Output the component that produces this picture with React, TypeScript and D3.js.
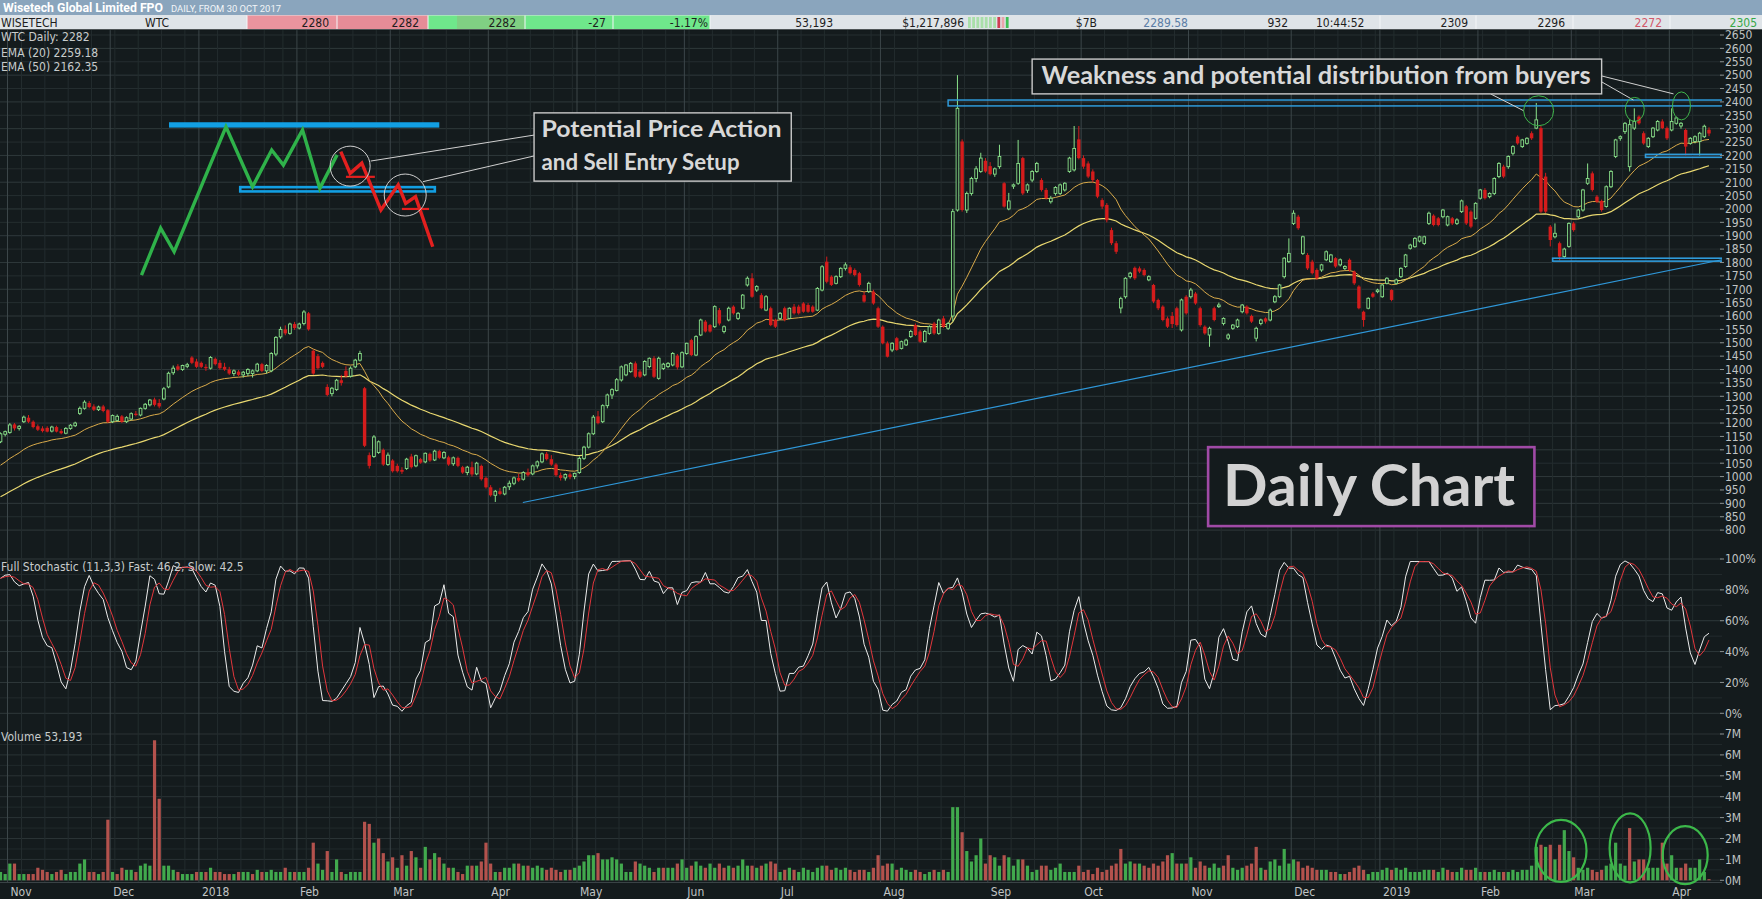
import React from 'react'
import * as d3 from 'd3'

// [open, high, low, close, volume in 100k shares]
type Bar = [number, number, number, number, number]

const oct17: Bar[] = [
  [1130, 1165, 1125, 1160, 4], [1158, 1172, 1150, 1168, 3],
]
const nov17: Bar[] = [
  [1165, 1200, 1160, 1193, 8], [1195, 1200, 1172, 1180, 8], [1180, 1192, 1172, 1188, 3], [1205, 1228, 1200, 1222, 3],
  [1220, 1230, 1200, 1205, 3], [1205, 1210, 1180, 1185, 3], [1188, 1195, 1170, 1175, 6], [1180, 1188, 1165, 1170, 5],
  [1182, 1188, 1165, 1168, 4], [1170, 1190, 1165, 1185, 3], [1185, 1190, 1165, 1168, 4], [1170, 1178, 1158, 1162, 5],
  [1162, 1185, 1158, 1180, 3], [1180, 1196, 1175, 1192, 4], [1190, 1205, 1185, 1200, 4], [1236, 1262, 1230, 1255, 8],
  [1255, 1285, 1250, 1278, 10], [1275, 1282, 1255, 1260, 4], [1262, 1270, 1245, 1250, 4], [1250, 1265, 1245, 1260, 3],
  [1262, 1268, 1240, 1245, 4], [1248, 1252, 1200, 1205, 29],
]
const dec17: Bar[] = [
  [1205, 1232, 1200, 1228, 4], [1210, 1232, 1205, 1225, 3], [1225, 1230, 1200, 1205, 6], [1205, 1225, 1200, 1220, 5],
  [1215, 1240, 1210, 1235, 5], [1235, 1245, 1225, 1230, 4], [1230, 1258, 1225, 1255, 7], [1255, 1275, 1250, 1270, 8],
  [1268, 1290, 1262, 1286, 7], [1288, 1295, 1262, 1268, 67], [1275, 1290, 1255, 1262, 39], [1290, 1335, 1285, 1328, 7],
  [1335, 1392, 1330, 1386, 7], [1388, 1415, 1380, 1405, 5], [1412, 1420, 1395, 1400, 4], [1400, 1418, 1395, 1415, 3],
  [1412, 1425, 1405, 1418, 3], [1445, 1450, 1420, 1425, 3], [1430, 1440, 1405, 1410, 4],
]
const jan18: Bar[] = [
  [1425, 1430, 1405, 1410, 4], [1410, 1420, 1395, 1405, 4], [1405, 1450, 1400, 1445, 6], [1440, 1445, 1415, 1420, 4],
  [1425, 1435, 1400, 1405, 4], [1410, 1425, 1395, 1400, 3], [1400, 1410, 1380, 1385, 3], [1385, 1400, 1375, 1395, 3],
  [1392, 1398, 1375, 1380, 4], [1380, 1395, 1370, 1390, 4], [1385, 1405, 1375, 1400, 4], [1385, 1400, 1370, 1395, 3],
  [1395, 1425, 1390, 1420, 5], [1420, 1425, 1390, 1395, 4], [1395, 1420, 1385, 1415, 4], [1395, 1465, 1390, 1460, 5],
  [1458, 1525, 1450, 1520, 4], [1522, 1560, 1515, 1550, 4], [1550, 1565, 1528, 1535, 6], [1535, 1575, 1530, 1570, 4],
  [1570, 1578, 1548, 1555, 4],
]
const feb18: Bar[] = [
  [1555, 1575, 1550, 1570, 4], [1572, 1622, 1565, 1615, 4], [1610, 1615, 1545, 1550, 6], [1470, 1475, 1380, 1385, 18],
  [1450, 1458, 1400, 1405, 8], [1425, 1430, 1405, 1410, 5], [1335, 1345, 1300, 1305, 14], [1310, 1335, 1300, 1330, 4],
  [1325, 1365, 1320, 1360, 10], [1360, 1380, 1340, 1350, 4], [1395, 1412, 1370, 1375, 3], [1375, 1412, 1370, 1405, 4],
  [1410, 1440, 1405, 1435, 4], [1435, 1470, 1430, 1460, 4], [1330, 1335, 1110, 1115, 28], [1080, 1090, 1030, 1040, 27],
  [1075, 1155, 1070, 1148, 18], [1090, 1135, 1085, 1130, 20], [1100, 1105, 1040, 1045, 13], [1045, 1090, 1040, 1080, 9],
]
const mar18: Bar[] = [
  [1060, 1065, 1015, 1020, 11], [1040, 1048, 1015, 1020, 6], [1025, 1035, 1010, 1018, 12], [1030, 1070, 1025, 1065, 7],
  [1075, 1085, 1030, 1035, 14], [1040, 1082, 1035, 1078, 11], [1065, 1070, 1048, 1052, 6], [1055, 1090, 1050, 1087, 16],
  [1085, 1090, 1055, 1060, 10], [1062, 1100, 1058, 1095, 13], [1095, 1100, 1065, 1070, 11], [1070, 1095, 1065, 1090, 8],
  [1072, 1078, 1040, 1045, 6], [1048, 1075, 1040, 1070, 6], [1070, 1075, 1035, 1040, 4], [1035, 1040, 1010, 1015, 3],
  [1015, 1040, 1005, 1035, 7], [1035, 1056, 1000, 1008, 7], [1010, 1055, 1005, 1050, 7], [1040, 1045, 985, 990, 9],
  [995, 1000, 955, 960, 18],
]
const apr18: Bar[] = [
  [960, 968, 925, 930, 8], [930, 950, 905, 945, 4], [945, 958, 930, 935, 4], [935, 965, 930, 960, 6],
  [962, 985, 950, 975, 6], [975, 1000, 968, 995, 8], [995, 1010, 980, 985, 8], [990, 1020, 985, 1015, 7],
  [1015, 1030, 1000, 1005, 7], [1010, 1045, 1005, 1040, 6], [1040, 1060, 1030, 1055, 7], [1055, 1090, 1050, 1085, 6],
  [1085, 1092, 1060, 1065, 5], [1065, 1080, 1040, 1045, 6], [1045, 1050, 1000, 1005, 5], [1005, 1015, 985, 995, 4],
  [995, 1012, 985, 1008, 5], [1008, 1015, 990, 998, 5], [1000, 1015, 990, 1012, 6],
]
const may18: Bar[] = [
  [1015, 1075, 1010, 1068, 7], [1068, 1115, 1062, 1110, 9], [1110, 1165, 1105, 1160, 12], [1160, 1230, 1155, 1222, 12],
  [1225, 1245, 1195, 1200, 13], [1205, 1270, 1200, 1265, 10], [1265, 1310, 1255, 1305, 10], [1305, 1330, 1290, 1325, 11],
  [1322, 1368, 1318, 1362, 10], [1361, 1415, 1355, 1410, 8], [1380, 1420, 1375, 1417, 4], [1392, 1428, 1388, 1423, 4],
  [1423, 1430, 1368, 1373, 9], [1392, 1398, 1368, 1373, 8], [1380, 1435, 1375, 1430, 7], [1411, 1445, 1405, 1442, 6],
  [1442, 1450, 1368, 1373, 4], [1367, 1448, 1362, 1442, 6], [1404, 1425, 1398, 1420, 6], [1411, 1428, 1405, 1423, 6],
  [1417, 1465, 1412, 1460, 6], [1452, 1458, 1400, 1408, 8], [1410, 1468, 1405, 1463, 10],
]
const jun18: Bar[] = [
  [1460, 1500, 1455, 1498, 6], [1510, 1515, 1450, 1454, 7], [1454, 1528, 1450, 1523, 9], [1529, 1590, 1525, 1585, 7],
  [1579, 1585, 1538, 1542, 6], [1566, 1570, 1538, 1542, 8], [1560, 1640, 1555, 1635, 6], [1622, 1630, 1565, 1572, 8],
  [1542, 1565, 1535, 1560, 6], [1585, 1635, 1580, 1629, 7], [1635, 1640, 1605, 1610, 6], [1591, 1615, 1585, 1610, 7],
  [1629, 1682, 1625, 1678, 10], [1716, 1748, 1710, 1741, 7], [1741, 1760, 1668, 1672, 7], [1697, 1715, 1690, 1710, 6],
  [1678, 1685, 1625, 1629, 7], [1622, 1678, 1618, 1672, 8], [1629, 1635, 1562, 1566, 9], [1585, 1590, 1555, 1560, 8],
]
const jul18: Bar[] = [
  [1591, 1615, 1585, 1610, 4], [1629, 1635, 1580, 1585, 5], [1591, 1632, 1588, 1629, 6], [1635, 1645, 1605, 1610, 5],
  [1635, 1642, 1605, 1610, 4], [1647, 1652, 1612, 1616, 6], [1641, 1648, 1612, 1616, 5], [1635, 1640, 1612, 1616, 4],
  [1622, 1708, 1618, 1703, 6], [1697, 1790, 1692, 1784, 7], [1803, 1822, 1722, 1728, 7], [1747, 1752, 1712, 1716, 5],
  [1722, 1752, 1718, 1747, 6], [1747, 1782, 1742, 1778, 5], [1778, 1800, 1770, 1791, 6], [1782, 1790, 1755, 1760, 5],
  [1772, 1778, 1748, 1753, 4], [1760, 1765, 1710, 1716, 5], [1678, 1690, 1650, 1654, 5], [1691, 1728, 1686, 1722, 4],
  [1691, 1698, 1642, 1647, 6], [1629, 1635, 1555, 1560, 12],
]
const aug18: Bar[] = [
  [1560, 1565, 1494, 1498, 7], [1498, 1505, 1445, 1448, 8], [1473, 1502, 1465, 1498, 8], [1517, 1522, 1470, 1473, 5],
  [1479, 1508, 1475, 1504, 6], [1492, 1515, 1488, 1510, 5], [1523, 1548, 1518, 1542, 4], [1566, 1572, 1525, 1529, 5],
  [1542, 1548, 1500, 1504, 4], [1504, 1548, 1500, 1542, 3], [1535, 1565, 1530, 1560, 4], [1572, 1578, 1530, 1535, 5],
  [1535, 1590, 1530, 1585, 4], [1591, 1600, 1555, 1560, 5], [1554, 1578, 1548, 1572, 4], [1600, 2000, 1580, 1990, 35],
  [1996, 2500, 1990, 2376, 35], [2252, 2260, 1990, 1996, 23], [1996, 2065, 1985, 2058, 14], [2058, 2120, 2050, 2114, 9],
  [2114, 2160, 2100, 2150, 12], [2140, 2210, 2135, 2190, 20], [2180, 2190, 2135, 2140, 8],
]
const sep18: Bar[] = [
  [2160, 2175, 2125, 2130, 12], [2130, 2155, 2120, 2150, 11], [2158, 2240, 2150, 2196, 7], [2096, 2100, 2005, 2009, 12],
  [2000, 2060, 1995, 2030, 11], [2085, 2095, 2075, 2090, 7], [2096, 2258, 2090, 2170, 10], [2190, 2195, 2052, 2058, 10],
  [2070, 2095, 2060, 2090, 7], [2108, 2145, 2100, 2140, 4], [2140, 2176, 2135, 2170, 5], [2108, 2115, 2065, 2071, 7],
  [2071, 2078, 2035, 2040, 7], [2027, 2048, 2020, 2040, 5], [2058, 2085, 2050, 2080, 6], [2058, 2095, 2052, 2090, 8],
  [2071, 2100, 2065, 2096, 4], [2140, 2195, 2135, 2190, 4], [2146, 2310, 2140, 2226, 4], [2260, 2310, 2185, 2190, 7],
]
const oct18: Bar[] = [
  [2190, 2200, 2150, 2158, 4], [2170, 2178, 2115, 2121, 5], [2140, 2148, 2100, 2108, 3], [2108, 2112, 2040, 2046, 6],
  [2033, 2040, 2000, 2009, 4], [2015, 2022, 1950, 1958, 5], [1921, 1930, 1865, 1872, 7], [1872, 1880, 1832, 1840, 8],
  [1630, 1672, 1610, 1665, 15], [1672, 1745, 1665, 1741, 8], [1747, 1765, 1740, 1760, 9], [1780, 1785, 1735, 1741, 8],
  [1778, 1785, 1760, 1766, 8], [1772, 1778, 1748, 1753, 7], [1735, 1752, 1730, 1747, 6], [1716, 1720, 1648, 1654, 8],
  [1660, 1665, 1622, 1629, 7], [1635, 1640, 1580, 1585, 9], [1591, 1598, 1555, 1560, 12], [1600, 1615, 1555, 1570, 13],
  [1629, 1635, 1560, 1566, 8], [1548, 1665, 1542, 1660, 8], [1672, 1678, 1605, 1610, 8],
]
const nov18: Bar[] = [
  [1672, 1705, 1665, 1697, 11], [1684, 1690, 1642, 1647, 6], [1629, 1635, 1560, 1566, 9], [1560, 1565, 1530, 1535, 7],
  [1529, 1560, 1485, 1554, 6], [1629, 1635, 1580, 1585, 8], [1635, 1650, 1630, 1641, 6], [1572, 1595, 1565, 1591, 7],
  [1517, 1535, 1510, 1529, 12], [1554, 1570, 1548, 1566, 6], [1560, 1590, 1555, 1585, 5], [1616, 1645, 1610, 1641, 6],
  [1635, 1640, 1605, 1610, 7], [1600, 1605, 1574, 1579, 8], [1517, 1560, 1505, 1554, 16], [1572, 1590, 1565, 1585, 6],
  [1591, 1595, 1572, 1579, 5], [1585, 1628, 1580, 1622, 9], [1653, 1678, 1648, 1672, 10], [1672, 1720, 1668, 1716, 7],
  [1747, 1820, 1740, 1816, 15], [1803, 1890, 1798, 1834, 8],
]
const dec18: Bar[] = [
  [1946, 1995, 1940, 1984, 10], [1971, 1978, 1922, 1928, 9], [1834, 1900, 1828, 1896, 6], [1828, 1835, 1772, 1778, 7],
  [1803, 1810, 1755, 1760, 6], [1772, 1778, 1735, 1741, 5], [1772, 1795, 1765, 1791, 5], [1810, 1845, 1805, 1840, 5],
  [1803, 1832, 1798, 1828, 4], [1816, 1820, 1780, 1785, 4], [1791, 1815, 1785, 1810, 3], [1778, 1790, 1772, 1785, 3],
  [1810, 1815, 1766, 1772, 4], [1766, 1770, 1716, 1722, 6], [1710, 1715, 1625, 1629, 7], [1616, 1620, 1560, 1585, 5],
  [1629, 1670, 1625, 1666, 3], [1684, 1690, 1668, 1672, 4], [1691, 1702, 1685, 1697, 4],
]
const jan19: Bar[] = [
  [1672, 1720, 1668, 1716, 5], [1722, 1745, 1718, 1741, 6], [1697, 1700, 1655, 1660, 5], [1722, 1740, 1718, 1735, 6],
  [1747, 1782, 1742, 1778, 5], [1785, 1832, 1780, 1828, 6], [1853, 1870, 1848, 1865, 4], [1859, 1895, 1855, 1890, 4],
  [1880, 1900, 1875, 1896, 4], [1871, 1900, 1865, 1896, 5], [1946, 1990, 1940, 1984, 5], [1975, 1980, 1935, 1940, 5],
  [1965, 1970, 1935, 1940, 4], [1971, 2000, 1965, 1996, 6], [1940, 1975, 1935, 1971, 5], [1965, 1970, 1940, 1946, 4],
  [1946, 1965, 1940, 1959, 4], [1990, 2035, 1985, 2030, 6], [2010, 2015, 1940, 1946, 5], [1990, 1995, 1928, 1934, 5],
  [1965, 2025, 1960, 2021, 6],
]
const feb19: Bar[] = [
  [2040, 2075, 2035, 2071, 4], [2071, 2078, 2035, 2040, 4], [2046, 2062, 2040, 2058, 4], [2058, 2118, 2052, 2114, 5],
  [2121, 2175, 2115, 2170, 4], [2158, 2165, 2115, 2121, 4], [2158, 2200, 2150, 2196, 4], [2208, 2238, 2200, 2233, 5],
  [2270, 2275, 2240, 2245, 4], [2233, 2262, 2228, 2258, 5], [2245, 2268, 2240, 2264, 5], [2283, 2290, 2258, 2264, 7],
  [2302, 2396, 2298, 2333, 16], [2302, 2310, 1985, 1990, 17], [2121, 2135, 1985, 1990, 16], [1934, 1940, 1860, 1884, 17],
  [1896, 1946, 1890, 1909, 10], [1872, 1878, 1808, 1822, 17], [1822, 1855, 1815, 1850, 24], [1860, 1950, 1855, 1946, 14],
]
const mar19: Bar[] = [
  [1946, 1952, 1915, 1921, 11], [1971, 2000, 1965, 1996, 6], [1996, 2075, 1990, 2071, 5], [2096, 2170, 2090, 2114, 6],
  [2133, 2140, 2065, 2071, 5], [2046, 2052, 2022, 2027, 4], [2030, 2035, 1990, 1996, 5], [2009, 2088, 2005, 2083, 7],
  [2083, 2145, 2078, 2140, 8], [2196, 2262, 2190, 2258, 18], [2264, 2275, 2255, 2270, 8], [2289, 2325, 2280, 2320, 7],
  [2158, 2335, 2140, 2315, 25], [2302, 2376, 2295, 2327, 9], [2345, 2350, 2315, 2320, 10], [2283, 2290, 2240, 2245, 10],
  [2233, 2268, 2228, 2264, 6], [2270, 2306, 2265, 2302, 6], [2295, 2332, 2290, 2327, 6], [2327, 2335, 2298, 2302, 18],
  [2302, 2308, 2258, 2264, 8],
]
const apr19: Bar[] = [
  [2295, 2376, 2290, 2327, 12], [2320, 2345, 2315, 2340, 6], [2310, 2325, 2300, 2320, 6], [2295, 2300, 2200, 2233, 8],
  [2245, 2268, 2240, 2264, 6], [2252, 2275, 2245, 2270, 6], [2252, 2288, 2200, 2283, 10], [2270, 2315, 2265, 2309, 4],
  [2296, 2305, 2272, 2282, 0.53],
]

const bars: Bar[] = [
  ...oct17, ...nov17, ...dec17, ...jan18, ...feb18, ...mar18, ...apr18, ...may18, ...jun18,
  ...jul18, ...aug18, ...sep18, ...oct18, ...nov18, ...dec18, ...jan19, ...feb19, ...mar19, ...apr19,
]

const monthLabels = ['Nov', 'Dec', '2018', 'Feb', 'Mar', 'Apr', 'May', 'Jun', 'Jul', 'Aug', 'Sep', 'Oct', 'Nov', 'Dec', '2019', 'Feb', 'Mar', 'Apr']
const holidays = ['2017-12-25', '2017-12-26', '2018-01-01', '2018-01-26', '2018-03-30', '2018-04-02', '2018-04-25',
  '2018-06-11', '2018-12-25', '2018-12-26', '2019-01-01', '2019-01-28']
const priceTicks = d3.range(800, 2651, 50)
const stochTicks = [0, 20, 40, 60, 80, 100]
const volTicks = [0, 1, 2, 3, 4, 5, 6, 7]

// EMA values carried in from before the first visible bar
const EMA20_SEED = 1030
const EMA50_SEED = 915

// hand-drawn pattern, [bar index, price]
const patternUp: [number, number][] = [[30.2, 1753], [34.3, 1928], [37.2, 1840], [48.3, 2307], [54.0, 2083], [58.1, 2220], [60.6, 2164], [64.7, 2295], [68.4, 2077], [72.1, 2202]]
const patternDown: [number, number][] = [[72.9, 2214], [74.9, 2133], [77.4, 2171], [81.5, 1996], [85.2, 2090], [86.8, 2021], [88.9, 2046], [92.6, 1859]]

const W = 1762, H = 899
const BG = '#141b1d'
const UP = '#8be38b'
const DOWN = '#d41c1c'
const NARROW = "'Liberation Sans Narrow', 'Arial Narrow', 'DejaVu Sans Condensed', 'Roboto Condensed', Roboto, sans-serif"
const LABEL = '#c0c4c4'

function tradingDays(n: number) {
  const fmt = d3.timeFormat('%Y-%m-%d')
  const out: Date[] = []
  let d = new Date(2017, 9, 30)
  while (out.length < n) {
    const wd = d.getDay()
    if (wd !== 0 && wd !== 6 && !holidays.includes(fmt(d))) out.push(d)
    d = d3.timeDay.offset(d, 1)
  }
  return out
}

function ema(vals: number[], period: number, seed: number) {
  const k = 2 / (period + 1)
  let prev = seed
  return vals.map(v => (prev = prev + k * (v - prev)))
}

function sma(vals: number[], n: number) {
  return vals.map((_, i) => d3.mean(vals.slice(Math.max(0, i - n + 1), i + 1)) as number)
}

export default function App() {
  const n = bars.length
  const dates = tradingDays(n)
  const x = d3.scaleLinear().domain([0, n - 1]).range([0.5, 1709])
  const step = x(1) - x(0)
  const yP = d3.scaleLinear().domain([800, 2650]).range([530.1, 35])
  const yS = d3.scaleLinear().domain([0, 100]).range([713.3, 559])
  const yV = d3.scaleLinear().domain([0, 70]).range([880.3, 734])
  const PR = 1722

  const closes = bars.map(b => b[3])
  const e20 = ema(closes, 20, EMA20_SEED)
  const e50 = ema(closes, 50, EMA50_SEED)
  const rawK = bars.map((b, i) => {
    const w = bars.slice(Math.max(0, i - 10), i + 1)
    const hh = d3.max(w, d => d[1]) as number
    const ll = d3.min(w, d => d[2]) as number
    return hh === ll ? 50 : (100 * (b[3] - ll)) / (hh - ll)
  })
  const fastK = sma(rawK, 3)
  const slowD = sma(fastK, 3)

  const monthStarts = dates.map((d, i) => i).filter(i => i > 0 && dates[i].getMonth() !== dates[i - 1].getMonth())
  const weekStarts = dates.map((d, i) => i).filter(i => i > 0 && dates[i].getDay() < dates[i - 1].getDay() && !monthStarts.includes(i))

  const priceLine = d3.line<number>().x((_, i) => x(i)).y(v => yP(v)).curve(d3.curveLinear)
  const stochLine = d3.line<number>().x((_, i) => x(i)).y(v => yS(v))
  const pt = (p: [number, number]) => [x(p[0]), yP(p[1])] as [number, number]
  const poly = (pts: [number, number][]) => (d3.line()(pts.map(pt)) as string)

  const box1 = { x0: x(114.3), x1: x(169.4), y0: yP(2359), y1: yP(2104) }
  const box2 = { x0: x(221), x1: x(343), y0: yP(2560), y1: yP(2430) }
  const box3 = { x0: x(258.7), x1: x(328.6), y0: yP(1110), y1: yP(815) }

  const headerCells = [
    { x: 247, w: 90, fill: '#ea949e' }, { x: 337, w: 91, fill: '#e68c97' },
    { x: 428, w: 29, fill: '#6fe78b' }, { x: 457, w: 68, fill: '#80cf83' },
    { x: 525, w: 88, fill: '#6fe78b' }, { x: 613, w: 97, fill: '#6fe78b' },
  ]
  const headerTexts: { t: string, x: number, a?: 'start' | 'end', c?: string }[] = [
    { t: 'WISETECH', x: 1, a: 'start' }, { t: 'WTC', x: 145, a: 'start' },
    { t: '2280', x: 329 }, { t: '2282', x: 419 }, { t: '2282', x: 516 }, { t: '-27', x: 606 }, { t: '-1.17%', x: 708 },
    { t: '53,193', x: 833 }, { t: '$1,217,896', x: 964 }, { t: '$7B', x: 1097 }, { t: '2289.58', x: 1188, c: '#5b7ea6' },
    { t: '932', x: 1288 }, { t: '10:44:52', x: 1316, a: 'start' }, { t: '2309', x: 1468 }, { t: '2296', x: 1565 },
    { t: '2272', x: 1662, c: '#d2586a' }, { t: '2305', x: 1757, c: '#36a848' },
  ]
  const miniBars = ['#a9dfa9', '#a9dfa9', '#a9dfa9', '#a9dfa9', '#a9dfa9', '#a9dfa9', '#a9dfa9', '#cf3f52', '#e9a4ac', '#3fbf55']

  return (
    <svg width={W} height={H} style={{ position: 'fixed', left: 0, top: 0, display: 'block' }} fontFamily={NARROW}>
      <rect x={0} y={0} width={W} height={H} fill={BG} />

      {/* grid */}
      {priceTicks.map(t => (
        <line key={'pg' + t} x1={0} x2={PR} y1={yP(t)} y2={yP(t)} stroke={t % 100 === 0 ? '#2f393b' : '#252e30'} />
      ))}
      {d3.range(0, 101, 10).map(t => (
        <line key={'sg' + t} x1={0} x2={PR} y1={yS(t)} y2={yS(t)} stroke={t % 20 === 0 ? '#2f393b' : '#232b2d'} />
      ))}
      {d3.range(0, 71, 5).map(t => (
        <line key={'vg' + t} x1={0} x2={PR} y1={yV(t)} y2={yV(t)} stroke={t % 10 === 0 ? '#2a3335' : '#212a2c'} />
      ))}
      {weekStarts.map(i => (
        <line key={'wk' + i} x1={x(i) - step / 2} x2={x(i) - step / 2} y1={30} y2={882} stroke="#232c2e" />
      ))}
      {monthStarts.map(i => (
        <line key={'mo' + i} x1={x(i) - step / 2} x2={x(i) - step / 2} y1={30} y2={882} stroke="#3c4649" />
      ))}
      <line x1={0} x2={W} y1={882.5} y2={882.5} stroke="#3a4346" />

      {/* EMAs */}
      <path d={priceLine(e50) as string} fill="none" stroke="#e9d870" strokeWidth={1.2} />
      <path d={priceLine(e20) as string} fill="none" stroke="#d9aa4a" strokeWidth={1} />

      {/* candles */}
      {bars.map((b, i) => {
        const [o, h, l, c] = b
        const cx = x(i)
        const top = yP(Math.max(o, c)), bot = yP(Math.min(o, c))
        const bh = Math.max(bot - top, 1)
        if (c >= o) {
          return (
            <g key={'c' + i} stroke={UP}>
              <line x1={cx} x2={cx} y1={yP(h)} y2={top} />
              <line x1={cx} x2={cx} y1={bot} y2={yP(l)} />
              <rect x={cx - 1.35} y={top} width={2.7} height={bh} fill={BG} strokeWidth={0.9} />
            </g>
          )
        }
        return (
          <g key={'c' + i}>
            <line x1={cx} x2={cx} y1={yP(h)} y2={yP(l)} stroke={DOWN} />
            <rect x={cx - 1.7} y={top} width={3.4} height={bh} fill={DOWN} />
          </g>
        )
      })}

      {/* stochastic */}
      <path d={stochLine(fastK) as string} fill="none" stroke="#ececec" strokeWidth={1} />
      <path d={stochLine(slowD) as string} fill="none" stroke="#e2363c" strokeWidth={1} />

      {/* volume */}
      {bars.map((b, i) => {
        const upv = i === 0 ? b[3] >= b[0] : b[3] >= bars[i - 1][3]
        return <rect key={'v' + i} x={x(i) - 1.6} y={yV(b[4])} width={3.2} height={yV(0) - yV(b[4])} fill={upv ? '#41a94d' : '#b3524d'} />
      })}

      {/* annotations: levels and trendline */}
      <line x1={x(111.9)} y1={yP(903)} x2={x(369.3)} y2={yP(1812)} stroke="#2f97d8" strokeWidth={1.2} />
      <rect x={x(203)} y={yP(2407)} width={x(369.3) - x(203)} height={yP(2385) - yP(2407)} fill="none" stroke="#2f9ad9" strokeWidth={1.5} />
      <rect x={x(352.4)} y={yP(2204)} width={x(369.3) - x(352.4)} height={yP(2193) - yP(2204)} fill="none" stroke="#2f9ad9" strokeWidth={1.6} />
      <rect x={x(332.5)} y={yP(1816)} width={x(369.3) - x(332.5)} height={yP(1805) - yP(1816)} fill="none" stroke="#2f9ad9" strokeWidth={1.6} />

      {/* hand-drawn pattern */}
      <rect x={x(36.1)} y={yP(2324)} width={x(94) - x(36.1)} height={yP(2304) - yP(2324)} fill="#129fe3" />
      <rect x={x(51.1) + 1.2} y={yP(2086) + 1.2} width={x(93.3) - x(51.1) - 2.4} height={yP(2061) - yP(2086) - 2.4} fill="none" stroke="#129fe3" strokeWidth={2.6} />
      <path d={poly(patternUp)} fill="none" stroke="#2fb24a" strokeWidth={3.4} strokeLinejoin="miter" />
      <path d={poly(patternDown)} fill="none" stroke="#e3201f" strokeWidth={3.4} strokeLinejoin="miter" />
      <line x1={x(74)} x2={x(80.2)} y1={yP(2120)} y2={yP(2120)} stroke="#e3201f" strokeWidth={2.2} />
      <line x1={x(86)} x2={x(91.8)} y1={yP(2000)} y2={yP(2000)} stroke="#e3201f" strokeWidth={2.2} />
      <circle cx={x(74.9)} cy={yP(2160)} r={20} fill="none" stroke="#cfcfcf" strokeWidth={1} />
      <circle cx={x(86.7)} cy={yP(2052)} r={21} fill="none" stroke="#cfcfcf" strokeWidth={1} />
      <line x1={box1.x0} y1={yP(2276)} x2={x(79.3)} y2={yP(2179)} stroke="#d0d0d0" strokeWidth={1} />
      <line x1={box1.x0} y1={yP(2198)} x2={x(90.5)} y2={yP(2102)} stroke="#d0d0d0" strokeWidth={1} />

      {/* text boxes */}
      <rect x={box1.x0} y={box1.y0} width={box1.x1 - box1.x0} height={box1.y1 - box1.y0} fill={BG} stroke="#c9c9c9" strokeWidth={1.4} />
      <g fontFamily="Lato, 'Open Sans', sans-serif" fontWeight={700} fill="#d8d8d8">
        <text x={box1.x0 + 7.5} y={box1.y0 + 24.5} fontSize={22} textLength={240} lengthAdjust="spacingAndGlyphs">Potential Price Action</text>
        <text x={box1.x0 + 7.5} y={box1.y0 + 57} fontSize={22} textLength={198} lengthAdjust="spacingAndGlyphs">and Sell Entry Setup</text>
      </g>

      <line x1={box2.x1} y1={yP(2497)} x2={x(358.4)} y2={yP(2430)} stroke="#d0d0d0" strokeWidth={1} />
      <line x1={box2.x1} y1={yP(2475)} x2={x(349.8)} y2={yP(2407)} stroke="#d0d0d0" strokeWidth={1} />
      <line x1={x(319.2)} y1={yP(2430)} x2={x(326.3)} y2={yP(2367)} stroke="#d0d0d0" strokeWidth={1} />
      <rect x={box2.x0} y={box2.y0} width={box2.x1 - box2.x0} height={box2.y1 - box2.y0} fill={BG} stroke="#c9c9c9" strokeWidth={1.4} />
      <text x={box2.x0 + 9.5} y={box2.y0 + 25} fontSize={24} fontFamily="Lato, 'Open Sans', sans-serif" fontWeight={700} fill="#d8d8d8"
        textLength={549} lengthAdjust="spacingAndGlyphs">Weakness and potential distribution from buyers</text>

      <circle cx={x(329.5)} cy={yP(2367)} r={15} fill="none" stroke="#3fb54b" strokeWidth={1} />
      <ellipse cx={x(350.1)} cy={yP(2372)} rx={9.5} ry={12} fill="none" stroke="#3fb54b" strokeWidth={1} />
      <ellipse cx={x(360.1)} cy={yP(2385)} rx={9} ry={14} fill="none" stroke="#3fb54b" strokeWidth={1} />

      <rect x={box3.x0} y={box3.y0} width={box3.x1 - box3.x0} height={box3.y1 - box3.y0} fill={BG} stroke="#a04aa6" strokeWidth={2.6} />
      <text x={box3.x0 + 15} y={box3.y0 + 59} fontSize={58} fontFamily="Lato, 'Open Sans', sans-serif" fontWeight={700} fill="#d2d2d2"
        textLength={292} lengthAdjust="spacingAndGlyphs">Daily Chart</text>

      <ellipse cx={x(334.3)} cy={yV(14.1)} rx={25.5} ry={31} fill="none" stroke="#3cb84a" strokeWidth={2.2} />
      <ellipse cx={x(349.1)} cy={yV(15.5)} rx={20.5} ry={34.5} fill="none" stroke="#3cb84a" strokeWidth={2.2} />
      <ellipse cx={x(360.9)} cy={yV(12)} rx={22.5} ry={29} fill="none" stroke="#3cb84a" strokeWidth={2.2} />

      {/* right axes */}
      <rect x={PR} y={30} width={W - PR} height={853} fill={BG} />
      <g fontSize={12} fill={LABEL}>
        {priceTicks.map(t => (
          <g key={'pt' + t}>
            <line x1={PR - 2} x2={1724} y1={yP(t)} y2={yP(t)} stroke="#8a9090" />
            <text x={1725} y={yP(t)} dy="0.36em">{t}</text>
          </g>
        ))}
        {stochTicks.map(t => (
          <g key={'st' + t}>
            <line x1={PR - 2} x2={1724} y1={yS(t)} y2={yS(t)} stroke="#8a9090" />
            <text x={1725} y={yS(t)} dy="0.36em">{t + '%'}</text>
          </g>
        ))}
        {volTicks.map(t => (
          <g key={'vt' + t}>
            <line x1={PR - 2} x2={1724} y1={yV(t * 10)} y2={yV(t * 10)} stroke="#8a9090" />
            <text x={1725} y={yV(t * 10)} dy="0.36em">{t + 'M'}</text>
          </g>
        ))}
      </g>

      {/* month labels */}
      <g fontSize={12} fill={LABEL}>
        {monthStarts.map((i, k) => (
          <text key={'ml' + i} x={x(i) - step / 2 + 3} y={895.5}>{monthLabels[k]}</text>
        ))}
      </g>

      {/* panel legends */}
      <g fontSize={12} fill="#c8cccc">
        <text x={1} y={41}>WTC Daily: 2282</text>
        <text x={1} y={57}>EMA (20) 2259.18</text>
        <text x={1} y={70.5}>EMA (50) 2162.35</text>
        <text x={1} y={571}>Full Stochastic (11,3,3) Fast: 46.2, Slow: 42.5</text>
        <text x={1} y={741}>Volume 53,193</text>
      </g>

      {/* title bar and quote row */}
      <rect x={0} y={0} width={W} height={15} fill="#8aa5bd" />
      <text x={3} y={12} fontSize={13} fontWeight={700} fill="#ffffff" fontFamily="Roboto, sans-serif" textLength={160} lengthAdjust="spacingAndGlyphs">Wisetech Global Limited FPO</text>
      <text x={171} y={11.5} fontSize={8.5} fill="#f2f5f8" fontFamily="Roboto, sans-serif" textLength={110} lengthAdjust="spacingAndGlyphs">DAILY, FROM 30 OCT 2017</text>
      <rect x={0} y={15} width={W} height={14.5} fill="#dfe4e8" />
      {headerCells.map((c, k) => <rect key={'hc' + k} x={c.x} y={15.5} width={c.w} height={13.5} fill={c.fill} />)}
      {[247, 337, 428, 525, 613, 710, 1380, 1476, 1573, 1670].map(s => (
        <line key={'hs' + s} x1={s} x2={s} y1={15.5} y2={29} stroke="#f4f6f8" strokeWidth={1} />
      ))}
      {miniBars.map((c, k) => <rect key={'mb' + k} x={968 + k * 4.2} y={17} width={2.8} height={11} fill={c} />)}
      <g fontSize={12} fill="#1e1e1e">
        {headerTexts.map((h, k) => (
          <text key={'ht' + k} x={h.x} y={26.5} textAnchor={h.a || 'end'} fill={h.c || '#1e1e1e'}>{h.t}</text>
        ))}
      </g>
      <line x1={0} x2={W} y1={29.75} y2={29.75} stroke="#0b1012" strokeWidth={0.5} />
    </svg>
  )
}
